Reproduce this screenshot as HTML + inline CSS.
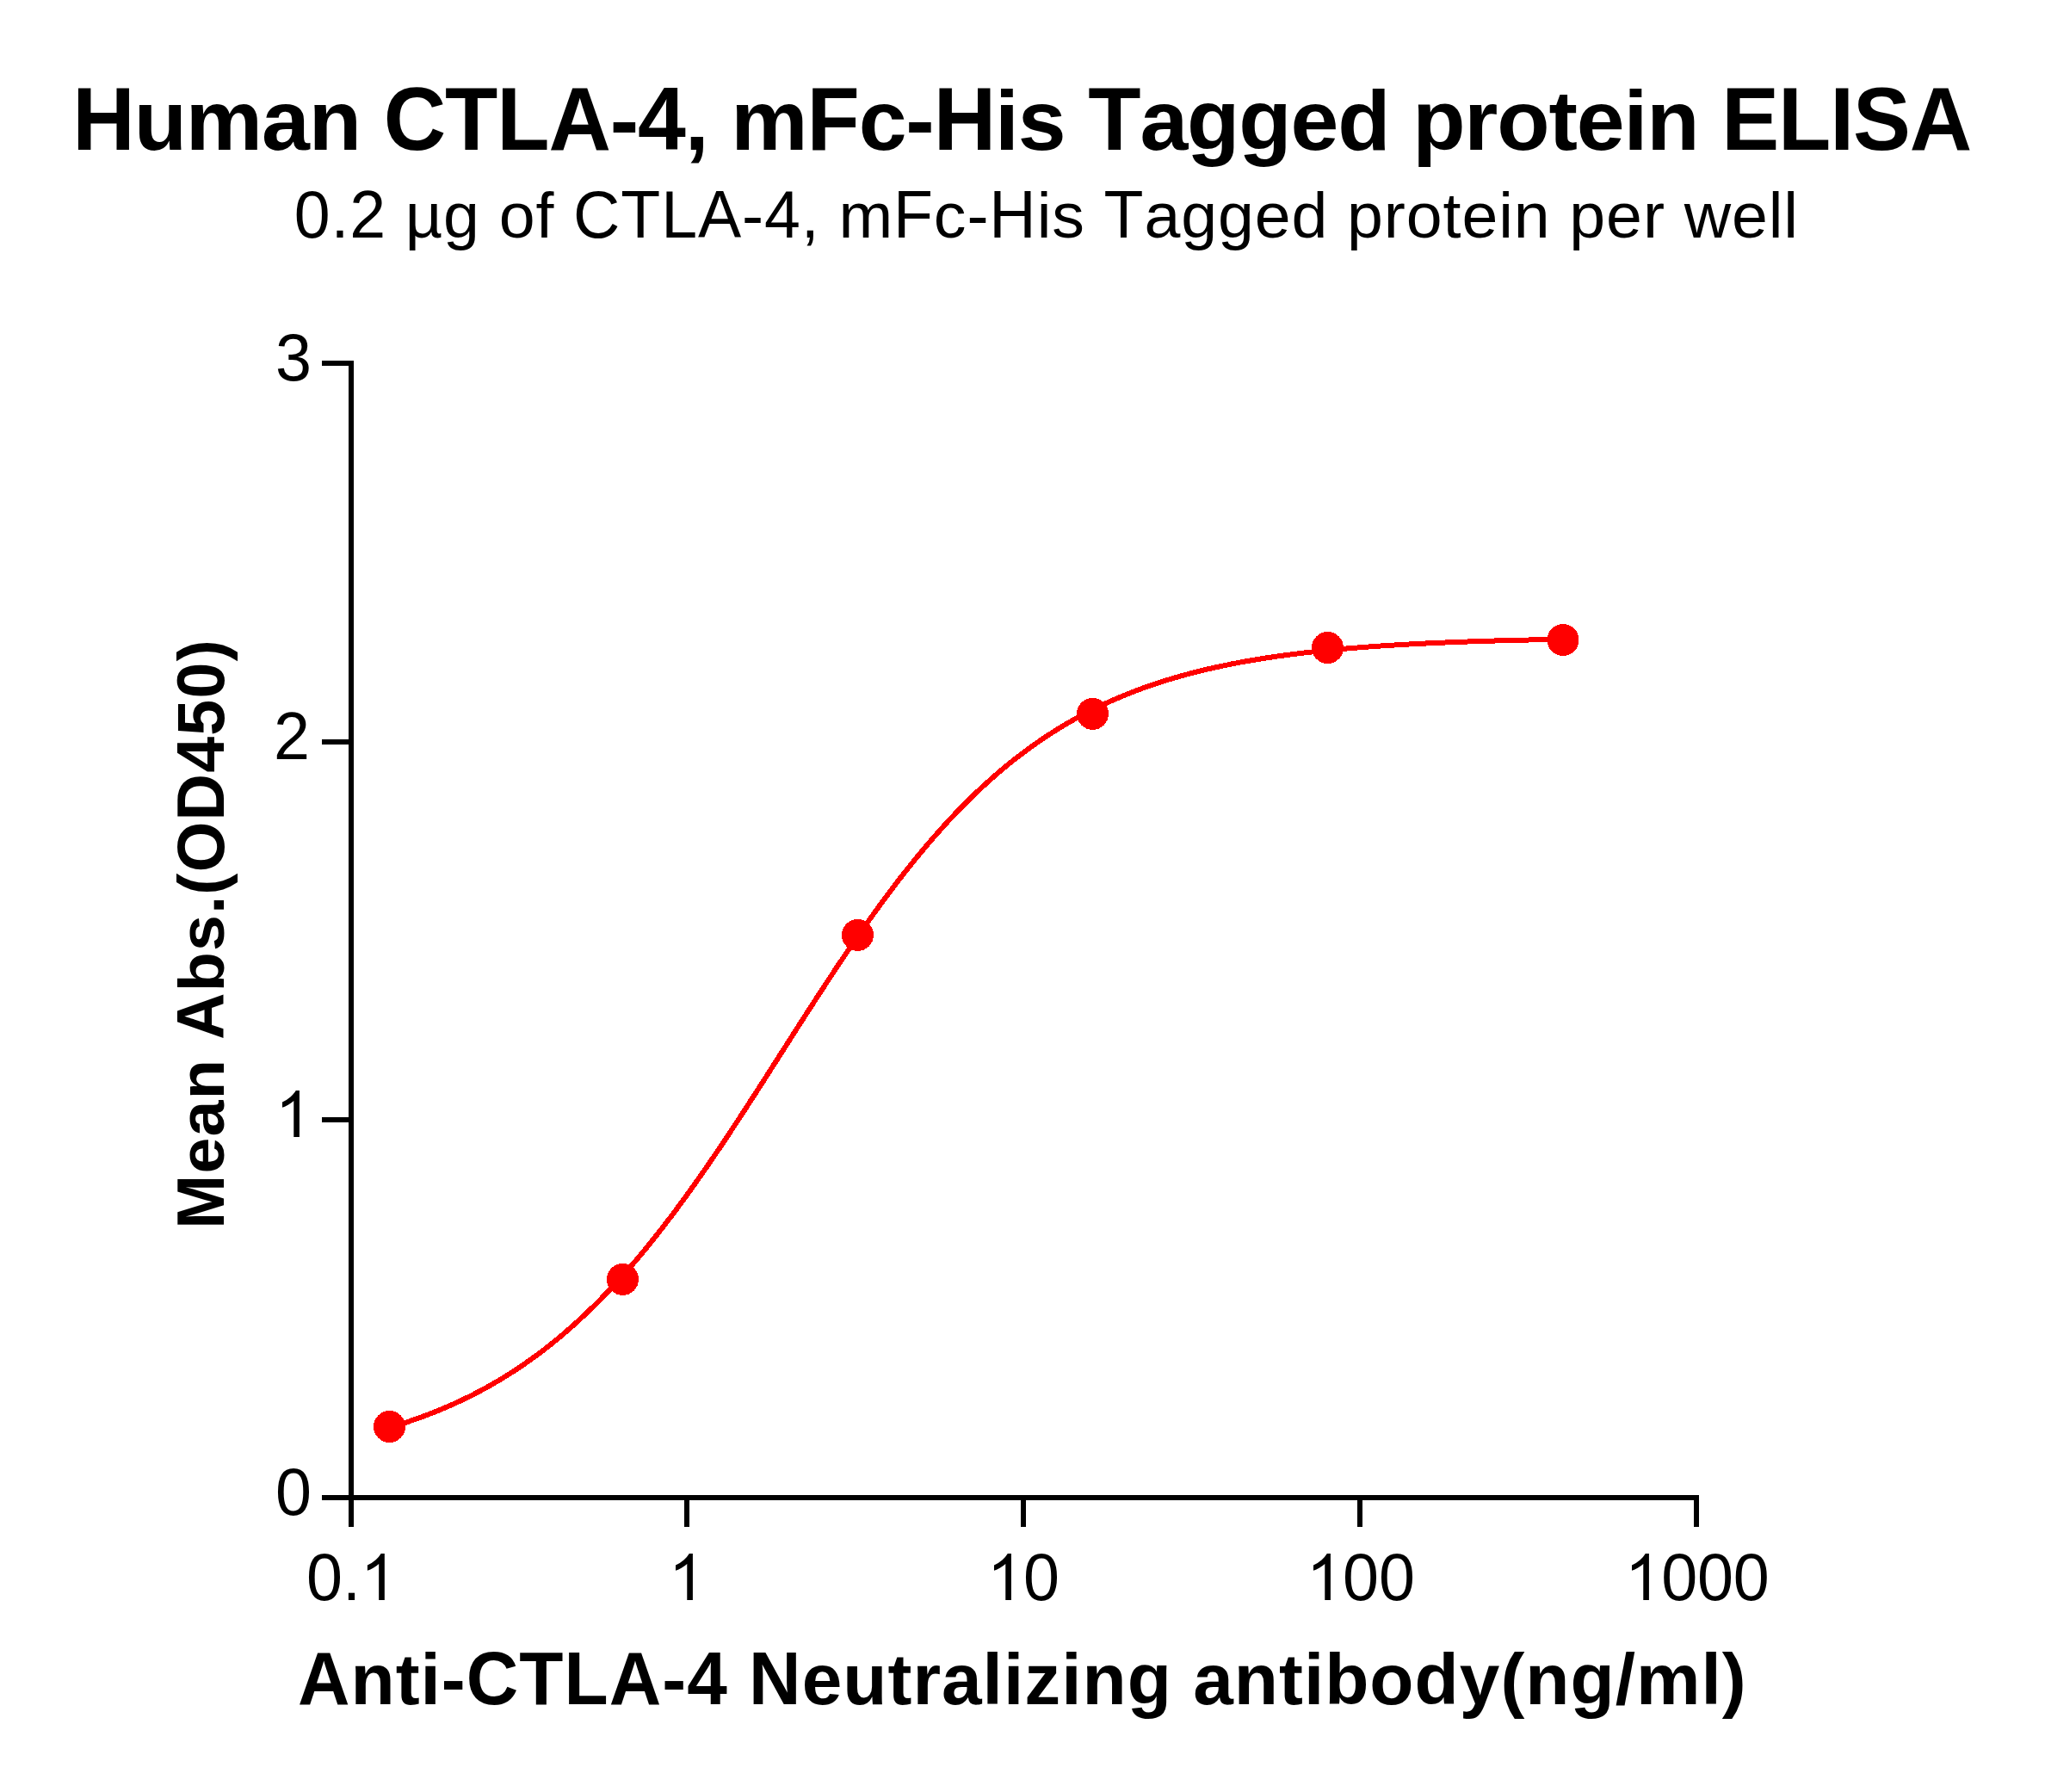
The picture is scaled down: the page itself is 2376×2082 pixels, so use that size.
<!DOCTYPE html>
<html><head><meta charset="utf-8"><style>
html,body{margin:0;padding:0;background:#fff;}
body{width:2376px;height:2082px;overflow:hidden;}
svg{display:block;}
text{font-family:"Liberation Sans", sans-serif;font-kerning:none;font-feature-settings:"kern" 0;}
</style></head><body>
<svg width="2376" height="2082" viewBox="0 0 2376 2082">
<rect x="0" y="0" width="2376" height="2082" fill="#fff"/>
<g font-family="'Liberation Sans', sans-serif" fill="#000">
<text x="84.28" y="0" transform="translate(0,173.80) scale(1,1.0405)" font-size="100.4" font-weight="bold">H</text>
<text x="155.66 215.85 303.99 358.69 418.89" y="0" transform="translate(0,173.80) scale(1,0.9850)" font-size="100.4" font-weight="bold">uman </text>
<text x="445.65 517.02 577.21 637.41" y="0" transform="translate(0,173.80) scale(1,1.0405)" font-size="100.4" font-weight="bold">CTLA</text>
<text x="708.78" y="0" transform="translate(0,173.80) scale(1,1.0000)" font-size="100.4" font-weight="bold">-</text>
<text x="741.08" y="0" transform="translate(0,173.80) scale(1,1.0300)" font-size="100.4" font-weight="bold">4</text>
<text x="795.78 822.54" y="0" transform="translate(0,173.80) scale(1,1.0000)" font-size="100.4" font-weight="bold">, </text>
<text x="849.30" y="0" transform="translate(0,173.80) scale(1,0.9850)" font-size="100.4" font-weight="bold">m</text>
<text x="937.44" y="0" transform="translate(0,173.80) scale(1,1.0405)" font-size="100.4" font-weight="bold">F</text>
<text x="997.63" y="0" transform="translate(0,173.80) scale(1,0.9850)" font-size="100.4" font-weight="bold">c</text>
<text x="1052.34" y="0" transform="translate(0,173.80) scale(1,1.0000)" font-size="100.4" font-weight="bold">-</text>
<text x="1084.64" y="0" transform="translate(0,173.80) scale(1,1.0405)" font-size="100.4" font-weight="bold">H</text>
<text x="1156.01 1182.77 1237.47" y="0" transform="translate(0,173.80) scale(1,0.9850)" font-size="100.4" font-weight="bold">is </text>
<text x="1264.23" y="0" transform="translate(0,173.80) scale(1,1.0405)" font-size="100.4" font-weight="bold">T</text>
<text x="1324.43 1379.13 1439.33 1499.52 1554.22 1614.42 1641.18 1701.37 1739.31 1799.50 1831.80 1886.51 1913.27 1973.46" y="0" transform="translate(0,173.80) scale(1,0.9850)" font-size="100.4" font-weight="bold">agged protein </text>
<text x="2000.22 2066.05 2126.25 2153.01 2218.84" y="0" transform="translate(0,173.80) scale(1,1.0405)" font-size="100.4" font-weight="bold">ELISA</text>
<text x="341.66" y="0" transform="translate(0,275.90) scale(1,1.0300)" font-size="75.3" font-weight="normal">0</text>
<text x="384.42" y="0" transform="translate(0,275.90) scale(1,1.0000)" font-size="75.3" font-weight="normal">.</text>
<text x="406.23 448.99" y="0" transform="translate(0,275.90) scale(1,1.0300)" font-size="75.3" font-weight="normal">2 </text>
<text x="470.80 515.07 557.84 579.65 622.41 644.22" y="0" transform="translate(0,275.90) scale(1,0.9850)" font-size="75.3" font-weight="normal">µg of </text>
<text x="666.02 721.29 768.17 810.94" y="0" transform="translate(0,275.90) scale(1,1.0405)" font-size="75.3" font-weight="normal">CTLA</text>
<text x="862.05" y="0" transform="translate(0,275.90) scale(1,1.0000)" font-size="75.3" font-weight="normal">-</text>
<text x="888.01" y="0" transform="translate(0,275.90) scale(1,1.0300)" font-size="75.3" font-weight="normal">4</text>
<text x="930.77 952.58" y="0" transform="translate(0,275.90) scale(1,1.0000)" font-size="75.3" font-weight="normal">, </text>
<text x="974.39" y="0" transform="translate(0,275.90) scale(1,0.9850)" font-size="75.3" font-weight="normal">m</text>
<text x="1038.00" y="0" transform="translate(0,275.90) scale(1,1.0405)" font-size="75.3" font-weight="normal">F</text>
<text x="1084.88" y="0" transform="translate(0,275.90) scale(1,0.9850)" font-size="75.3" font-weight="normal">c</text>
<text x="1123.42" y="0" transform="translate(0,275.90) scale(1,1.0000)" font-size="75.3" font-weight="normal">-</text>
<text x="1149.38" y="0" transform="translate(0,275.90) scale(1,1.0405)" font-size="75.3" font-weight="normal">H</text>
<text x="1204.64 1222.26 1260.80" y="0" transform="translate(0,275.90) scale(1,0.9850)" font-size="75.3" font-weight="normal">is </text>
<text x="1282.60" y="0" transform="translate(0,275.90) scale(1,1.0405)" font-size="75.3" font-weight="normal">T</text>
<text x="1329.49 1372.25 1415.01 1457.78 1500.54 1543.31 1565.12 1607.88 1633.84 1676.61 1698.41 1741.18 1758.79 1801.56 1823.36 1866.13 1908.89 1934.86 1956.66 2011.93 2054.69 2072.31" y="0" transform="translate(0,275.90) scale(1,0.9850)" font-size="75.3" font-weight="normal">agged protein per well</text>
<text x="345.91" y="0" transform="translate(0,1979.80) scale(1,1.0405)" font-size="83.8" font-weight="bold">A</text>
<text x="407.45 459.65 488.57" y="0" transform="translate(0,1979.80) scale(1,0.9850)" font-size="83.8" font-weight="bold">nti</text>
<text x="512.87" y="0" transform="translate(0,1979.80) scale(1,1.0000)" font-size="83.8" font-weight="bold">-</text>
<text x="541.79 603.32 655.53 707.73" y="0" transform="translate(0,1979.80) scale(1,1.0405)" font-size="83.8" font-weight="bold">CTLA</text>
<text x="769.26" y="0" transform="translate(0,1979.80) scale(1,1.0000)" font-size="83.8" font-weight="bold">-</text>
<text x="798.18 845.81" y="0" transform="translate(0,1979.80) scale(1,1.0300)" font-size="83.8" font-weight="bold">4 </text>
<text x="870.10" y="0" transform="translate(0,1979.80) scale(1,1.0405)" font-size="83.8" font-weight="bold">N</text>
<text x="931.64 979.26 1031.46 1060.38 1094.01 1141.63 1165.93 1190.22 1233.14 1257.44 1309.64 1361.84 1386.14 1433.76 1485.97 1514.89 1539.19 1591.39 1643.59 1695.80" y="0" transform="translate(0,1979.80) scale(1,0.9850)" font-size="83.8" font-weight="bold">eutralizing antibody</text>
<text x="1743.42" y="0" transform="translate(0,1979.80) scale(1,1.0000)" font-size="83.8" font-weight="bold">(</text>
<text x="1772.34 1824.54" y="0" transform="translate(0,1979.80) scale(1,0.9850)" font-size="83.8" font-weight="bold">ng</text>
<text x="1876.75" y="0" transform="translate(0,1979.80) scale(1,1.0000)" font-size="83.8" font-weight="bold">/</text>
<text x="1901.04 1976.57" y="0" transform="translate(0,1979.80) scale(1,0.9850)" font-size="83.8" font-weight="bold">ml</text>
<text x="2000.87" y="0" transform="translate(0,1979.80) scale(1,1.0000)" font-size="83.8" font-weight="bold">)</text>
<text x="-1427.64" y="0" transform="translate(260.00,0) rotate(-90) scale(1,1.0405)" font-size="75.4" font-weight="bold">M</text>
<text x="-1363.62 -1320.47 -1277.33 -1230.05" y="0" transform="translate(260.00,0) rotate(-90) scale(1,0.9850)" font-size="75.4" font-weight="bold">ean </text>
<text x="-1207.89" y="0" transform="translate(260.00,0) rotate(-90) scale(1,1.0405)" font-size="75.4" font-weight="bold">A</text>
<text x="-1152.23 -1104.96" y="0" transform="translate(260.00,0) rotate(-90) scale(1,0.9850)" font-size="75.4" font-weight="bold">bs</text>
<text x="-1061.81 -1039.65" y="0" transform="translate(260.00,0) rotate(-90) scale(1,1.0000)" font-size="75.4" font-weight="bold">.(</text>
<text x="-1013.32 -953.46" y="0" transform="translate(260.00,0) rotate(-90) scale(1,1.0405)" font-size="75.4" font-weight="bold">OD</text>
<text x="-897.80 -854.65 -811.50" y="0" transform="translate(260.00,0) rotate(-90) scale(1,1.0300)" font-size="75.4" font-weight="bold">450</text>
<text x="-768.35" y="0" transform="translate(260.00,0) rotate(-90) scale(1,1.0000)" font-size="75.4" font-weight="bold">)</text>
<text x="0" y="0" transform="translate(355.95,1859) scale(1,1.0271)" font-size="75.5">0</text>
<text x="0" y="0" transform="translate(398.11,1859) scale(1,1.0271)" font-size="75.5">.</text>
<path transform="translate(418.68,1859) scale(0.03687,-0.03668)" d="M763,0 L583,0 L583,1147 Q518,1085 415,1024.5 Q312,964 223,931 L223,1105 Q374,1176 486.5,1277 Q599,1378 651,1472 L763,1472 Z"/>
<path transform="translate(776.78,1859) scale(0.03687,-0.03668)" d="M763,0 L583,0 L583,1147 Q518,1085 415,1024.5 Q312,964 223,931 L223,1105 Q374,1176 486.5,1277 Q599,1378 651,1472 L763,1472 Z"/>
<path transform="translate(1146.78,1859) scale(0.03687,-0.03668)" d="M763,0 L583,0 L583,1147 Q518,1085 415,1024.5 Q312,964 223,931 L223,1105 Q374,1176 486.5,1277 Q599,1378 651,1472 L763,1472 Z"/>
<text x="0" y="0" transform="translate(1189.05,1859) scale(1,1.0271)" font-size="75.5">0</text>
<path transform="translate(1517.78,1859) scale(0.03687,-0.03668)" d="M763,0 L583,0 L583,1147 Q518,1085 415,1024.5 Q312,964 223,931 L223,1105 Q374,1176 486.5,1277 Q599,1378 651,1472 L763,1472 Z"/>
<text x="0" y="0" transform="translate(1560.05,1859) scale(1,1.0271)" font-size="75.5">0</text>
<text x="0" y="0" transform="translate(1601.95,1859) scale(1,1.0271)" font-size="75.5">0</text>
<path transform="translate(1887.78,1859) scale(0.03687,-0.03668)" d="M763,0 L583,0 L583,1147 Q518,1085 415,1024.5 Q312,964 223,931 L223,1105 Q374,1176 486.5,1277 Q599,1378 651,1472 L763,1472 Z"/>
<text x="0" y="0" transform="translate(1930.25,1859) scale(1,1.0271)" font-size="75.5">0</text>
<text x="0" y="0" transform="translate(1971.95,1859) scale(1,1.0271)" font-size="75.5">0</text>
<text x="0" y="0" transform="translate(2013.80,1859) scale(1,1.0271)" font-size="75.5">0</text>
<text x="0" y="0" transform="translate(320.02,442) scale(1,1.0271)" font-size="75.5">3</text>
<text x="0" y="0" transform="translate(318.10,882) scale(1,1.0271)" font-size="75.5">2</text>
<path transform="translate(319.78,1321) scale(0.03687,-0.03668)" d="M763,0 L583,0 L583,1147 Q518,1085 415,1024.5 Q312,964 223,931 L223,1105 Q374,1176 486.5,1277 Q599,1378 651,1472 L763,1472 Z"/>
<text x="0" y="0" transform="translate(320.05,1760) scale(1,1.0271)" font-size="75.5">0</text>
</g>
<g fill="#000" shape-rendering="crispEdges">
<rect x="405" y="419" width="6" height="1324"/>
<rect x="405" y="1737" width="1569" height="6"/>
<rect x="374" y="419" width="31" height="6"/>
<rect x="374" y="859" width="31" height="6"/>
<rect x="374" y="1298" width="31" height="6"/>
<rect x="374" y="1737" width="31" height="6"/>
<rect x="405" y="1743" width="6" height="31"/>
<rect x="795" y="1743" width="6" height="31"/>
<rect x="1186" y="1743" width="6" height="31"/>
<rect x="1577" y="1743" width="6" height="31"/>
<rect x="1968" y="1743" width="6" height="31"/>
</g>
<path d="M452.50,1658.62 L455.92,1657.60 L459.33,1656.56 L462.75,1655.50 L466.17,1654.42 L469.59,1653.31 L473.00,1652.19 L476.42,1651.04 L479.84,1649.87 L483.26,1648.67 L486.67,1647.46 L490.09,1646.22 L493.51,1644.95 L496.92,1643.66 L500.34,1642.34 L503.76,1641.00 L507.18,1639.63 L510.59,1638.24 L514.01,1636.82 L517.43,1635.37 L520.85,1633.90 L524.26,1632.39 L527.68,1630.86 L531.10,1629.30 L534.52,1627.71 L537.93,1626.09 L541.35,1624.44 L544.77,1622.76 L548.18,1621.05 L551.60,1619.31 L555.02,1617.53 L558.44,1615.73 L561.85,1613.89 L565.27,1612.01 L568.69,1610.10 L572.11,1608.16 L575.52,1606.19 L578.94,1604.18 L582.36,1602.13 L585.77,1600.05 L589.19,1597.93 L592.61,1595.77 L596.03,1593.58 L599.44,1591.35 L602.86,1589.08 L606.28,1586.78 L609.70,1584.43 L613.11,1582.05 L616.53,1579.62 L619.95,1577.16 L623.36,1574.66 L626.78,1572.11 L630.20,1569.53 L633.62,1566.90 L637.03,1564.23 L640.45,1561.52 L643.87,1558.77 L647.29,1555.97 L650.70,1553.13 L654.12,1550.25 L657.54,1547.32 L660.95,1544.35 L664.37,1541.34 L667.79,1538.28 L671.21,1535.18 L674.62,1532.03 L678.04,1528.84 L681.46,1525.60 L684.88,1522.32 L688.29,1518.99 L691.71,1515.62 L695.13,1512.20 L698.55,1508.74 L701.96,1505.23 L705.38,1501.67 L708.80,1498.07 L712.21,1494.43 L715.63,1490.73 L719.05,1486.99 L722.47,1483.21 L725.88,1479.38 L729.30,1475.51 L732.72,1471.59 L736.14,1467.63 L739.55,1463.62 L742.97,1459.56 L746.39,1455.47 L749.80,1451.32 L753.22,1447.14 L756.64,1442.91 L760.06,1438.64 L763.47,1434.33 L766.89,1429.97 L770.31,1425.58 L773.73,1421.14 L777.14,1416.66 L780.56,1412.14 L783.98,1407.59 L787.39,1402.99 L790.81,1398.36 L794.23,1393.69 L797.65,1388.98 L801.06,1384.23 L804.48,1379.46 L807.90,1374.64 L811.32,1369.80 L814.73,1364.92 L818.15,1360.00 L821.57,1355.06 L824.98,1350.09 L828.40,1345.09 L831.82,1340.06 L835.24,1335.00 L838.65,1329.92 L842.07,1324.82 L845.49,1319.68 L848.91,1314.53 L852.32,1309.36 L855.74,1304.16 L859.16,1298.95 L862.58,1293.71 L865.99,1288.46 L869.41,1283.20 L872.83,1277.92 L876.24,1272.62 L879.66,1267.32 L883.08,1262.00 L886.50,1256.68 L889.91,1251.34 L893.33,1246.00 L896.75,1240.66 L900.17,1235.31 L903.58,1229.95 L907.00,1224.60 L910.42,1219.24 L913.83,1213.89 L917.25,1208.54 L920.67,1203.19 L924.09,1197.84 L927.50,1192.51 L930.92,1187.18 L934.34,1181.86 L937.76,1176.54 L941.17,1171.25 L944.59,1165.96 L948.01,1160.69 L951.42,1155.43 L954.84,1150.19 L958.26,1144.96 L961.68,1139.76 L965.09,1134.57 L968.51,1129.41 L971.93,1124.27 L975.35,1119.15 L978.76,1114.05 L982.18,1108.98 L985.60,1103.94 L989.02,1098.93 L992.43,1093.94 L995.85,1088.98 L999.27,1084.06 L1002.68,1079.16 L1006.10,1074.30 L1009.52,1069.47 L1012.94,1064.67 L1016.35,1059.91 L1019.77,1055.19 L1023.19,1050.50 L1026.61,1045.85 L1030.02,1041.23 L1033.44,1036.66 L1036.86,1032.12 L1040.27,1027.62 L1043.69,1023.16 L1047.11,1018.75 L1050.53,1014.37 L1053.94,1010.04 L1057.36,1005.75 L1060.78,1001.50 L1064.20,997.29 L1067.61,993.13 L1071.03,989.01 L1074.45,984.94 L1077.86,980.91 L1081.28,976.92 L1084.70,972.98 L1088.12,969.09 L1091.53,965.23 L1094.95,961.43 L1098.37,957.67 L1101.79,953.95 L1105.20,950.29 L1108.62,946.66 L1112.04,943.08 L1115.45,939.55 L1118.87,936.07 L1122.29,932.63 L1125.71,929.23 L1129.12,925.88 L1132.54,922.58 L1135.96,919.32 L1139.38,916.10 L1142.79,912.93 L1146.21,909.81 L1149.63,906.73 L1153.05,903.70 L1156.46,900.70 L1159.88,897.76 L1163.30,894.85 L1166.71,891.99 L1170.13,889.18 L1173.55,886.40 L1176.97,883.67 L1180.38,880.98 L1183.80,878.34 L1187.22,875.73 L1190.64,873.17 L1194.05,870.64 L1197.47,868.16 L1200.89,865.72 L1204.30,863.31 L1207.72,860.95 L1211.14,858.62 L1214.56,856.34 L1217.97,854.09 L1221.39,851.88 L1224.81,849.70 L1228.23,847.57 L1231.64,845.47 L1235.06,843.40 L1238.48,841.38 L1241.89,839.38 L1245.31,837.42 L1248.73,835.50 L1252.15,833.61 L1255.56,831.75 L1258.98,829.93 L1262.40,828.14 L1265.82,826.38 L1269.23,824.66 L1272.65,822.96 L1276.07,821.30 L1279.48,819.66 L1282.90,818.06 L1286.32,816.48 L1289.74,814.94 L1293.15,813.42 L1296.57,811.93 L1299.99,810.47 L1303.41,809.04 L1306.82,807.63 L1310.24,806.25 L1313.66,804.90 L1317.08,803.57 L1320.49,802.26 L1323.91,800.99 L1327.33,799.73 L1330.74,798.50 L1334.16,797.30 L1337.58,796.12 L1341.00,794.96 L1344.41,793.82 L1347.83,792.71 L1351.25,791.61 L1354.67,790.54 L1358.08,789.49 L1361.50,788.46 L1364.92,787.45 L1368.33,786.46 L1371.75,785.49 L1375.17,784.54 L1378.59,783.61 L1382.00,782.70 L1385.42,781.80 L1388.84,780.93 L1392.26,780.07 L1395.67,779.23 L1399.09,778.40 L1402.51,777.59 L1405.92,776.80 L1409.34,776.03 L1412.76,775.27 L1416.18,774.52 L1419.59,773.79 L1423.01,773.08 L1426.43,772.38 L1429.85,771.69 L1433.26,771.02 L1436.68,770.36 L1440.10,769.72 L1443.52,769.09 L1446.93,768.47 L1450.35,767.87 L1453.77,767.27 L1457.18,766.69 L1460.60,766.12 L1464.02,765.57 L1467.44,765.02 L1470.85,764.49 L1474.27,763.97 L1477.69,763.46 L1481.11,762.95 L1484.52,762.46 L1487.94,761.98 L1491.36,761.51 L1494.77,761.05 L1498.19,760.60 L1501.61,760.16 L1505.03,759.73 L1508.44,759.31 L1511.86,758.89 L1515.28,758.49 L1518.70,758.09 L1522.11,757.70 L1525.53,757.32 L1528.95,756.95 L1532.36,756.59 L1535.78,756.23 L1539.20,755.88 L1542.62,755.54 L1546.03,755.20 L1549.45,754.88 L1552.87,754.56 L1556.29,754.24 L1559.70,753.94 L1563.12,753.64 L1566.54,753.34 L1569.95,753.06 L1573.37,752.77 L1576.79,752.50 L1580.21,752.23 L1583.62,751.97 L1587.04,751.71 L1590.46,751.45 L1593.88,751.21 L1597.29,750.97 L1600.71,750.73 L1604.13,750.50 L1607.55,750.27 L1610.96,750.05 L1614.38,749.83 L1617.80,749.62 L1621.21,749.41 L1624.63,749.21 L1628.05,749.01 L1631.47,748.81 L1634.88,748.62 L1638.30,748.44 L1641.72,748.26 L1645.14,748.08 L1648.55,747.90 L1651.97,747.73 L1655.39,747.56 L1658.80,747.40 L1662.22,747.24 L1665.64,747.08 L1669.06,746.93 L1672.47,746.78 L1675.89,746.63 L1679.31,746.49 L1682.73,746.35 L1686.14,746.21 L1689.56,746.08 L1692.98,745.95 L1696.39,745.82 L1699.81,745.69 L1703.23,745.57 L1706.65,745.45 L1710.06,745.33 L1713.48,745.22 L1716.90,745.10 L1720.32,744.99 L1723.73,744.89 L1727.15,744.78 L1730.57,744.68 L1733.98,744.58 L1737.40,744.48 L1740.82,744.38 L1744.24,744.29 L1747.65,744.19 L1751.07,744.10 L1754.49,744.01 L1757.91,743.93 L1761.32,743.84 L1764.74,743.76 L1768.16,743.68 L1771.58,743.60 L1774.99,743.52 L1778.41,743.45 L1781.83,743.37 L1785.24,743.30 L1788.66,743.23 L1792.08,743.16 L1795.50,743.09 L1798.91,743.02 L1802.33,742.96 L1805.75,742.90 L1809.17,742.83 L1812.58,742.77 L1816.00,742.71" fill="none" stroke="#ff0000" stroke-width="6" stroke-linejoin="round" shape-rendering="crispEdges"/>
<circle cx="452.5" cy="1657.5" r="18.5" fill="#ff0000" shape-rendering="crispEdges"/>
<circle cx="723.5" cy="1486.4" r="18.5" fill="#ff0000" shape-rendering="crispEdges"/>
<circle cx="996.5" cy="1086.4" r="18.5" fill="#ff0000" shape-rendering="crispEdges"/>
<circle cx="1269.5" cy="829.4" r="18.5" fill="#ff0000" shape-rendering="crispEdges"/>
<circle cx="1542.5" cy="752.5" r="18.5" fill="#ff0000" shape-rendering="crispEdges"/>
<circle cx="1816.0" cy="743.5" r="18.5" fill="#ff0000" shape-rendering="crispEdges"/>
</svg>
</body></html>
